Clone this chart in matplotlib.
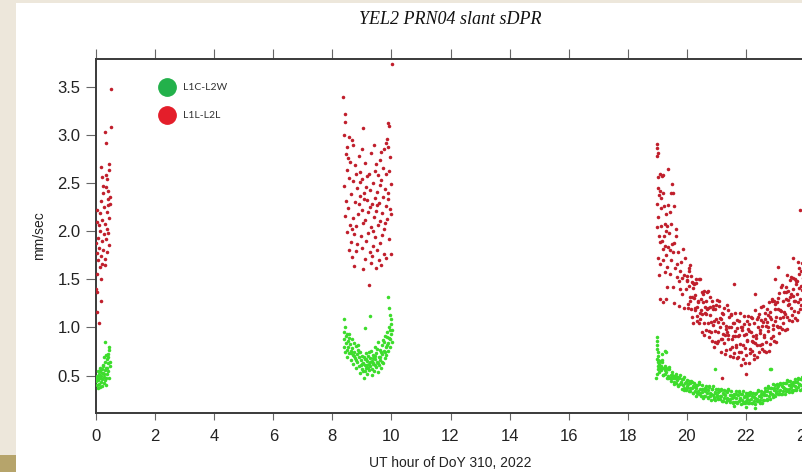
import matplotlib
matplotlib.use("Agg")
import matplotlib.pyplot as plt
from matplotlib.lines import Line2D
from matplotlib.patches import Rectangle
import numpy as np

# ---- data: (UT hour, mm/sec) ----
pass_a_l1l = [(0.51, 3.48), (0.51, 3.08), (0.29, 3.03), (0.35, 2.92), (0.16, 2.67), (0.44, 2.70),
              (0.45, 2.64), (0.22, 2.56), (0.33, 2.58), (0.37, 2.54), (0.25, 2.47), (0.34, 2.46),
              (0.47, 2.36), (0.42, 2.33), (0.18, 2.31), (0.46, 2.28), (0.05, 2.22), (0.12, 2.19),
              (0.28, 2.25), (0.38, 2.20), (0.44, 2.14), (0.02, 2.10), (0.09, 2.06), (0.21, 2.12),
              (0.31, 2.08), (0.36, 2.02), (0.41, 1.98), (0.15, 2.00), (0.26, 1.97), (0.07, 1.93),
              (0.19, 1.90), (0.33, 1.92), (0.43, 1.86), (0.01, 1.88), (0.11, 1.83), (0.24, 1.80),
              (0.04, 1.77), (0.16, 1.74), (0.29, 1.71), (0.08, 1.70), (0.36, 1.78), (0.40, 2.27),
              (0.23, 2.40), (0.39, 2.42), (0.14, 1.63), (0.19, 1.66), (0.30, 1.65), (0.18, 1.50),
              (0.01, 1.40), (0.04, 1.37), (0.18, 1.27), (0.05, 1.16), (0.11, 1.05), (0.02, 1.56)]

pass_a_l1c = [(0.32, 0.85), (0.43, 0.80), (0.45, 0.77), (0.28, 0.69), (0.42, 0.69), (0.36, 0.67),
              (0.31, 0.64), (0.39, 0.63), (0.25, 0.61), (0.47, 0.60), (0.34, 0.58), (0.20, 0.57),
              (0.29, 0.56), (0.41, 0.55), (0.15, 0.55), (0.24, 0.53), (0.37, 0.52), (0.10, 0.52),
              (0.05, 0.50), (0.18, 0.50), (0.27, 0.49), (0.33, 0.48), (0.02, 0.48), (0.13, 0.47),
              (0.22, 0.46), (0.44, 0.47), (0.08, 0.45), (0.30, 0.45), (0.16, 0.43), (0.01, 0.44),
              (0.26, 0.42), (0.11, 0.41), (0.04, 0.40), (0.21, 0.39), (0.07, 0.37), (0.35, 0.40),
              (0.14, 0.38), (0.38, 0.58), (0.23, 0.60), (0.19, 0.53), (0.12, 0.58), (0.06, 0.55),
              (0.40, 0.72), (0.34, 0.71), (0.09, 0.49), (0.28, 0.52), (0.46, 0.64), (0.03, 0.46)]

pass_b_l1l = [(8.37, 3.39), (8.43, 3.22), (8.42, 3.14), (9.90, 3.13), (9.92, 3.09), (9.05, 3.07),
              (8.40, 3.00), (8.55, 2.98), (8.66, 2.95), (8.71, 2.90), (9.85, 2.96), (9.80, 2.92),
              (9.88, 2.88), (9.76, 2.85), (10.01, 3.74), (8.45, 2.80), (8.52, 2.76), (8.89, 2.78),
              (9.32, 2.81), (9.61, 2.74), (9.95, 2.77), (8.61, 2.72), (8.78, 2.69), (9.12, 2.71),
              (9.47, 2.70), (9.70, 2.66), (9.91, 2.63), (8.48, 2.64), (8.95, 2.62), (9.23, 2.60),
              (9.55, 2.58), (9.83, 2.59), (8.58, 2.55), (8.70, 2.52), (9.02, 2.54), (9.38, 2.50),
              (9.66, 2.53), (9.97, 2.49), (8.41, 2.47), (8.83, 2.45), (9.15, 2.46), (9.29, 2.43),
              (9.51, 2.41), (9.78, 2.44), (8.63, 2.39), (8.92, 2.37), (9.07, 2.40), (9.43, 2.35),
              (9.72, 2.36), (9.89, 2.33), (8.46, 2.31), (8.76, 2.30), (9.19, 2.32), (9.35, 2.28),
              (9.58, 2.29), (9.81, 2.26), (8.54, 2.24), (8.99, 2.22), (9.26, 2.25), (9.49, 2.21),
              (9.68, 2.19), (9.94, 2.23), (8.44, 2.16), (8.69, 2.14), (8.87, 2.18), (9.10, 2.12),
              (9.41, 2.15), (9.63, 2.11), (9.86, 2.13), (8.59, 2.07), (8.81, 2.05), (9.04, 2.09),
              (9.31, 2.04), (9.54, 2.06), (9.75, 2.02), (8.50, 1.99), (8.73, 1.97), (8.96, 1.95),
              (9.21, 1.98), (9.45, 1.94), (9.69, 1.96), (9.93, 1.92), (8.64, 1.89), (8.85, 1.87),
              (9.13, 1.90), (9.37, 1.85), (9.60, 1.88), (8.57, 1.81), (8.79, 1.79), (9.01, 1.83),
              (9.28, 1.78), (9.52, 1.80), (9.74, 1.76), (8.68, 1.73), (9.09, 1.71), (9.33, 1.74),
              (9.57, 1.70), (9.82, 1.72), (8.74, 1.64), (9.05, 1.61), (9.30, 1.67), (9.49, 1.62),
              (9.64, 1.65), (9.97, 1.76), (9.25, 1.44), (8.50, 2.88), (9.00, 2.85), (9.40, 2.90),
              (9.65, 2.82), (8.93, 2.51), (9.17, 2.57), (9.62, 2.48), (9.44, 2.63), (8.80, 2.60),
              (9.08, 2.33), (9.50, 2.27), (8.90, 2.28), (9.20, 2.20), (9.77, 2.09), (8.67, 2.02),
              (9.36, 2.00), (9.90, 2.40), (9.98, 2.18)]

pass_b_l1c = [(8.38, 0.95), (8.40, 0.88), (8.41, 0.80), (8.43, 0.74), (8.45, 0.91), (8.47, 0.84),
              (8.49, 0.77), (8.50, 0.69), (8.52, 0.86), (8.54, 0.80), (8.56, 0.73), (8.58, 0.93),
              (8.60, 0.83), (8.62, 0.76), (8.63, 0.66), (8.65, 0.88), (8.67, 0.79), (8.69, 0.71),
              (8.71, 0.62), (8.73, 0.84), (8.75, 0.75), (8.77, 0.68), (8.79, 0.58), (8.81, 0.81),
              (8.83, 0.72), (8.85, 0.64), (8.87, 0.77), (8.89, 0.69), (8.91, 0.60), (8.93, 0.53),
              (8.95, 0.74), (8.97, 0.66), (8.99, 0.57), (9.01, 0.70), (9.03, 0.63), (9.05, 0.55),
              (9.07, 0.48), (9.09, 0.67), (9.11, 0.61), (9.13, 0.73), (9.15, 0.58), (9.17, 0.65),
              (9.19, 0.52), (9.21, 0.70), (9.23, 0.62), (9.25, 0.56), (9.27, 0.68), (9.29, 0.60),
              (9.31, 0.76), (9.33, 0.65), (9.35, 0.57), (9.37, 0.71), (9.39, 0.63), (9.41, 0.55),
              (9.43, 0.80), (9.45, 0.67), (9.47, 0.59), (9.49, 0.73), (9.51, 0.64), (9.53, 0.54),
              (9.55, 0.85), (9.57, 0.69), (9.59, 0.61), (9.61, 0.77), (9.63, 0.66), (9.65, 0.58),
              (9.67, 0.82), (9.69, 0.72), (9.71, 0.63), (9.73, 0.87), (9.75, 0.76), (9.77, 0.68),
              (9.79, 0.91), (9.81, 0.80), (9.83, 0.71), (9.85, 0.95), (9.87, 0.84), (9.89, 0.76),
              (9.91, 1.00), (9.93, 0.89), (9.95, 0.80), (9.97, 1.04), (9.99, 0.93), (10.01, 0.85),
              (10.03, 0.97), (9.87, 1.32), (9.93, 1.20), (9.95, 1.13), (8.40, 1.09), (8.42, 1.00),
              (9.27, 1.12), (9.10, 0.99), (8.55, 0.89), (8.72, 0.70), (8.86, 0.82), (9.00, 0.62),
              (9.14, 0.67), (9.24, 0.75), (9.36, 0.62), (9.46, 0.70), (9.56, 0.63), (9.66, 0.75),
              (9.76, 0.85), (9.86, 0.90), (9.96, 0.88), (8.48, 0.93), (8.64, 0.73), (8.80, 0.66),
              (8.96, 0.61), (9.12, 0.55), (9.28, 0.64), (9.44, 0.61), (9.60, 0.69), (9.78, 0.74),
              (9.94, 0.97), (8.90, 0.74), (9.06, 0.69), (9.22, 0.58), (9.38, 0.68), (9.52, 0.78),
              (9.68, 0.64), (9.84, 0.82), (10.00, 1.09), (9.18, 0.61), (9.34, 0.51)]

pass_c_l1l = [
    # rise, 19.0 - 20.0 h
    (19.00, 2.91), (19.00, 2.86), (19.01, 2.81), (18.99, 2.78), (19.37, 2.65), (19.01, 2.56),
    (19.15, 2.57), (19.18, 2.58), (19.50, 2.49), (19.04, 2.45), (19.08, 2.42), (19.06, 2.38),
    (19.12, 2.35), (19.48, 2.40), (19.53, 2.40), (18.99, 2.28), (19.14, 2.24), (19.22, 2.26),
    (19.35, 2.27), (19.55, 2.26), (19.25, 2.08), (19.48, 2.08), (18.98, 2.04), (19.29, 2.00),
    (19.62, 1.95), (19.09, 1.89), (19.26, 1.85), (19.37, 1.84), (19.49, 1.87), (19.20, 1.82),
    (19.43, 1.80), (19.54, 1.78), (19.09, 1.66), (19.32, 1.63), (19.66, 1.66), (19.77, 1.59),
    (19.94, 1.72), (20.11, 1.65), (19.26, 1.58), (19.43, 1.56), (19.66, 1.52), (19.83, 1.51),
    (20.00, 1.49), (20.22, 1.46), (19.32, 1.42), (19.54, 1.42), (19.77, 1.40), (19.02, 2.15),
    (19.05, 1.95), (19.03, 1.72), (19.07, 1.55), (19.10, 2.60), (19.12, 2.05), (19.16, 1.90),
    (19.19, 1.70), (19.21, 2.40), (19.24, 1.95), (19.28, 2.18), (19.31, 1.75), (19.33, 2.05),
    (19.40, 1.98), (19.42, 2.20), (19.45, 1.70), (19.58, 1.88), (19.60, 1.62), (19.63, 2.02),
    (19.70, 1.78), (19.72, 1.48), (19.80, 1.68), (19.85, 1.35), (19.88, 1.82), (19.92, 1.55),
    (19.96, 1.40), (19.10, 1.30), (19.18, 1.26), (19.30, 1.30), (19.55, 1.25), (19.75, 1.22),
    (19.90, 1.20),
    # bowl, 20.0 - 24.0 h
    (20.01, 1.54), (20.03, 1.20), (20.06, 1.43), (20.08, 1.62), (20.10, 1.28), (20.13, 1.19),
    (20.15, 1.54), (20.17, 1.32), (20.20, 1.41), (20.22, 1.05), (20.24, 1.45), (20.27, 1.18),
    (20.29, 1.34), (20.31, 1.50), (20.34, 1.12), (20.36, 1.21), (20.38, 1.26), (20.41, 1.05),
    (20.43, 1.50), (20.45, 1.15), (20.48, 1.18), (20.50, 1.37), (20.52, 0.95), (20.55, 1.26),
    (20.57, 1.38), (20.59, 1.05), (20.62, 1.15), (20.64, 1.28), (20.66, 0.97), (20.69, 1.19),
    (20.71, 1.38), (20.73, 1.05), (20.76, 0.90), (20.78, 1.21), (20.80, 1.13), (20.83, 0.95),
    (20.85, 1.27), (20.87, 1.03), (20.90, 1.19), (20.92, 0.80), (20.94, 1.19), (20.97, 0.85),
    (20.99, 1.09), (21.01, 1.29), (21.04, 0.95), (21.06, 0.86), (21.08, 1.22), (21.11, 1.00),
    (21.13, 1.10), (21.15, 0.75), (21.18, 1.15), (21.20, 0.88), (21.22, 1.05), (21.25, 1.20),
    (21.27, 0.84), (21.29, 0.92), (21.32, 0.98), (21.34, 0.77), (21.36, 1.23), (21.39, 0.88),
    (21.41, 0.92), (21.43, 1.11), (21.46, 0.70), (21.48, 1.01), (21.50, 1.13), (21.53, 0.80),
    (21.55, 0.91), (21.57, 1.05), (21.60, 0.73), (21.62, 0.96), (21.64, 1.15), (21.67, 0.82),
    (21.69, 0.68), (21.71, 0.99), (21.74, 0.91), (21.76, 0.74), (21.78, 1.07), (21.81, 0.83),
    (21.83, 1.00), (21.85, 0.61), (21.88, 1.00), (21.90, 0.67), (21.92, 0.92), (21.95, 1.12),
    (21.97, 0.79), (21.99, 0.71), (22.02, 1.07), (22.04, 0.86), (22.06, 0.98), (22.09, 0.63),
    (22.11, 1.04), (22.13, 0.78), (22.16, 0.95), (22.18, 1.11), (22.20, 0.76), (22.23, 0.85),
    (22.25, 0.91), (22.27, 0.71), (22.30, 1.18), (22.32, 0.84), (22.34, 0.89), (22.37, 1.09),
    (22.39, 0.69), (22.41, 1.01), (22.44, 1.14), (22.46, 0.82), (22.48, 0.94), (22.51, 1.08),
    (22.53, 0.78), (22.55, 1.02), (22.58, 1.22), (22.60, 0.90), (22.62, 0.76), (22.65, 1.09),
    (22.67, 1.02), (22.69, 0.85), (22.72, 1.19), (22.74, 0.96), (22.76, 1.13), (22.79, 0.76),
    (22.81, 1.16), (22.83, 0.83), (22.86, 1.09), (22.88, 1.30), (22.90, 0.98), (22.93, 0.91),
    (22.95, 1.27), (22.97, 1.07), (23.00, 1.19), (23.02, 0.85), (23.04, 1.26), (23.07, 1.01),
    (23.09, 1.19), (23.11, 1.36), (23.14, 1.00), (23.16, 1.10), (23.18, 1.17), (23.21, 0.98),
    (23.23, 1.44), (23.25, 1.11), (23.28, 1.16), (23.30, 1.37), (23.32, 0.97), (23.35, 1.30),
    (23.37, 1.42), (23.39, 1.11), (23.42, 1.23), (23.44, 1.38), (23.46, 1.08), (23.49, 1.32),
    (23.51, 1.52), (23.53, 1.20), (23.56, 1.07), (23.58, 1.40), (23.60, 1.33), (23.63, 1.17),
    (23.65, 1.50), (23.67, 1.27), (23.70, 1.45), (23.72, 1.08), (23.74, 1.48), (23.77, 1.16),
    (23.79, 1.41), (23.81, 1.62), (23.84, 1.30), (23.86, 1.23), (23.88, 1.59), (23.91, 1.39),
    (23.93, 1.51), (23.95, 1.17), (23.98, 1.58),
    (20.02, 1.48), (20.05, 1.24), (20.09, 1.59), (20.12, 1.32), (20.16, 1.11), (20.19, 1.47),
    (20.23, 1.31), (20.26, 1.20), (20.30, 1.46), (20.33, 1.07), (20.37, 1.28), (20.40, 1.50),
    (20.44, 1.09), (20.47, 1.30), (20.51, 1.14), (20.54, 1.35), (20.58, 0.92), (20.61, 1.21),
    (20.65, 1.14), (20.68, 1.37), (20.72, 1.20), (20.75, 0.96), (20.79, 1.32), (20.82, 1.06),
    (20.86, 0.86), (20.89, 1.22), (20.93, 1.07), (20.96, 0.96), (21.00, 1.23), (21.03, 0.84),
    (21.07, 1.06), (21.10, 1.28), (21.14, 0.88), (21.17, 1.09), (21.21, 0.93), (21.24, 1.14),
    (21.28, 0.72), (21.31, 1.02), (21.35, 0.95), (21.38, 1.18), (21.42, 1.01), (21.45, 0.78),
    (21.49, 1.14), (21.52, 0.88), (21.56, 0.69), (21.59, 1.05), (21.63, 0.91), (21.66, 0.80),
    (21.70, 1.08), (21.73, 0.69), (21.77, 0.92), (21.80, 1.15), (21.84, 0.75), (21.87, 0.97),
    (21.91, 0.82), (21.94, 1.04), (21.98, 0.63), (22.01, 0.93), (22.05, 0.87), (22.08, 1.12),
    (22.12, 0.96), (22.15, 0.73), (22.19, 1.10), (22.22, 0.86), (22.26, 0.67), (22.29, 1.05),
    (22.33, 0.92), (22.36, 0.82), (22.40, 1.11), (22.43, 0.74), (22.47, 0.97), (22.50, 1.21),
    (22.54, 0.83), (22.57, 1.06), (22.61, 0.92), (22.64, 1.15), (22.68, 0.75), (22.71, 1.06),
    (22.75, 1.01), (22.78, 1.26), (22.82, 1.11), (22.85, 0.89), (22.89, 1.27), (22.92, 1.03),
    (22.96, 0.86), (22.99, 1.24), (23.03, 1.11), (23.06, 1.02), (23.10, 1.31), (23.13, 0.94),
    (23.17, 1.18), (23.20, 1.42), (23.24, 1.05), (23.27, 1.28), (23.31, 1.14), (23.34, 1.37),
    (23.38, 0.98), (23.41, 1.29), (23.45, 1.24), (23.48, 1.49), (23.52, 1.35), (23.55, 1.13),
    (23.59, 1.51), (23.62, 1.27), (23.66, 1.10), (23.69, 1.48), (23.73, 1.35), (23.76, 1.26),
    (23.80, 1.56), (23.83, 1.19), (23.87, 1.43), (23.90, 1.67), (23.94, 1.29), (23.97, 1.52),
    # stragglers
    (23.83, 2.22), (23.09, 1.63), (23.00, 1.50), (23.40, 1.55), (23.60, 1.72), (23.75, 1.68),
    (21.20, 0.47), (22.00, 0.52), (21.60, 1.45), (22.30, 1.35)]

pass_c_l1c = [
    # steep start at 19.0 h
    (18.98, 0.90), (18.99, 0.86), (19.00, 0.82), (19.00, 0.78), (19.01, 0.74), (19.02, 0.70),
    (18.99, 0.67), (19.03, 0.64), (19.02, 0.60), (19.04, 0.57), (19.05, 0.54), (19.00, 0.52),
    (18.97, 0.47), (19.06, 0.62), (19.08, 0.58), (19.04, 0.66), (19.26, 0.76), (19.30, 0.74),
    (19.15, 0.72), (20.95, 0.57), (22.80, 0.57), (22.85, 0.57), (22.00, 0.17), (21.60, 0.18),
    (22.30, 0.16),
    # band
    (19.10, 0.65), (19.12, 0.56), (19.15, 0.66), (19.17, 0.58), (19.20, 0.51), (19.22, 0.58),
    (19.25, 0.60), (19.27, 0.52), (19.30, 0.54), (19.32, 0.47), (19.35, 0.57), (19.37, 0.50),
    (19.40, 0.59), (19.42, 0.47), (19.45, 0.51), (19.47, 0.44), (19.50, 0.54), (19.52, 0.48),
    (19.55, 0.50), (19.57, 0.43), (19.60, 0.50), (19.62, 0.42), (19.65, 0.52), (19.67, 0.45),
    (19.70, 0.39), (19.72, 0.47), (19.75, 0.49), (19.77, 0.41), (19.80, 0.43), (19.82, 0.36),
    (19.85, 0.46), (19.87, 0.40), (19.90, 0.49), (19.92, 0.37), (19.95, 0.42), (19.97, 0.35),
    (20.00, 0.45), (20.02, 0.39), (20.05, 0.41), (20.07, 0.34), (20.10, 0.42), (20.12, 0.34),
    (20.15, 0.44), (20.17, 0.37), (20.20, 0.32), (20.22, 0.39), (20.25, 0.42), (20.27, 0.34),
    (20.30, 0.37), (20.32, 0.29), (20.35, 0.40), (20.37, 0.34), (20.40, 0.43), (20.42, 0.31),
    (20.45, 0.36), (20.47, 0.29), (20.50, 0.40), (20.52, 0.33), (20.55, 0.36), (20.57, 0.29),
    (20.60, 0.37), (20.62, 0.29), (20.65, 0.39), (20.67, 0.32), (20.70, 0.27), (20.72, 0.35),
    (20.75, 0.38), (20.77, 0.29), (20.80, 0.32), (20.82, 0.25), (20.85, 0.36), (20.87, 0.30),
    (20.90, 0.39), (20.92, 0.28), (20.95, 0.32), (20.97, 0.25), (21.00, 0.36), (21.02, 0.30),
    (21.05, 0.33), (21.07, 0.26), (21.10, 0.34), (21.12, 0.26), (21.15, 0.36), (21.17, 0.29),
    (21.20, 0.24), (21.22, 0.32), (21.25, 0.35), (21.27, 0.27), (21.30, 0.30), (21.32, 0.23),
    (21.35, 0.33), (21.37, 0.27), (21.40, 0.36), (21.42, 0.25), (21.45, 0.30), (21.47, 0.23),
    (21.50, 0.34), (21.52, 0.27), (21.55, 0.30), (21.57, 0.23), (21.60, 0.31), (21.62, 0.23),
    (21.65, 0.34), (21.67, 0.27), (21.70, 0.22), (21.72, 0.30), (21.75, 0.33), (21.77, 0.24),
    (21.80, 0.27), (21.82, 0.20), (21.85, 0.31), (21.87, 0.25), (21.90, 0.34), (21.92, 0.23),
    (21.95, 0.28), (21.97, 0.21), (22.00, 0.32), (22.02, 0.26), (22.05, 0.29), (22.07, 0.22),
    (22.10, 0.30), (22.12, 0.22), (22.15, 0.33), (22.17, 0.26), (22.20, 0.21), (22.22, 0.29),
    (22.25, 0.32), (22.27, 0.24), (22.30, 0.27), (22.32, 0.20), (22.35, 0.32), (22.37, 0.26),
    (22.40, 0.35), (22.42, 0.24), (22.45, 0.29), (22.47, 0.22), (22.50, 0.34), (22.52, 0.28),
    (22.55, 0.31), (22.57, 0.25), (22.60, 0.33), (22.62, 0.25), (22.65, 0.37), (22.67, 0.30),
    (22.70, 0.25), (22.72, 0.34), (22.75, 0.37), (22.77, 0.29), (22.80, 0.33), (22.82, 0.26),
    (22.85, 0.37), (22.87, 0.31), (22.90, 0.41), (22.92, 0.30), (22.95, 0.35), (22.97, 0.29),
    (23.00, 0.40), (23.02, 0.34), (23.05, 0.37), (23.07, 0.31), (23.10, 0.39), (23.12, 0.31),
    (23.15, 0.42), (23.17, 0.35), (23.20, 0.31), (23.22, 0.39), (23.25, 0.42), (23.27, 0.34),
    (23.30, 0.37), (23.32, 0.31), (23.35, 0.42), (23.37, 0.36), (23.40, 0.45), (23.42, 0.34),
    (23.45, 0.40), (23.47, 0.33), (23.50, 0.44), (23.52, 0.38), (23.55, 0.41), (23.57, 0.35),
    (23.60, 0.43), (23.62, 0.35), (23.65, 0.46), (23.67, 0.39), (23.70, 0.35), (23.72, 0.43),
    (23.75, 0.46), (23.77, 0.38), (23.80, 0.41), (23.82, 0.35), (23.85, 0.46), (23.87, 0.40),
    (23.90, 0.49), (23.92, 0.38), (23.95, 0.44), (23.97, 0.37),
    (19.11, 0.60), (19.16, 0.64), (19.21, 0.51), (19.26, 0.56), (19.31, 0.58), (19.36, 0.48),
    (19.41, 0.57), (19.46, 0.47), (19.51, 0.51), (19.56, 0.41), (19.61, 0.47), (19.66, 0.49),
    (19.71, 0.40), (19.76, 0.51), (19.81, 0.42), (19.86, 0.46), (19.91, 0.35), (19.96, 0.43),
    (20.01, 0.37), (20.06, 0.44), (20.11, 0.37), (20.16, 0.43), (20.21, 0.32), (20.26, 0.38),
    (20.31, 0.40), (20.36, 0.32), (20.41, 0.41), (20.46, 0.32), (20.51, 0.36), (20.56, 0.27),
    (20.61, 0.34), (20.66, 0.36), (20.71, 0.28), (20.76, 0.39), (20.81, 0.31), (20.86, 0.36),
    (20.91, 0.26), (20.96, 0.33), (21.01, 0.28), (21.06, 0.36), (21.11, 0.29), (21.16, 0.35),
    (21.21, 0.24), (21.26, 0.31), (21.31, 0.34), (21.36, 0.25), (21.41, 0.35), (21.46, 0.26),
    (21.51, 0.30), (21.56, 0.21), (21.61, 0.28), (21.66, 0.31), (21.71, 0.23), (21.76, 0.34),
    (21.81, 0.26), (21.86, 0.31), (21.91, 0.21), (21.96, 0.29), (22.01, 0.24), (22.06, 0.32),
    (22.11, 0.25), (22.16, 0.32), (22.21, 0.21), (22.26, 0.28), (22.31, 0.31), (22.36, 0.24),
    (22.41, 0.34), (22.46, 0.25), (22.51, 0.31), (22.56, 0.22), (22.61, 0.30), (22.66, 0.34),
    (22.71, 0.26), (22.76, 0.39), (22.81, 0.32), (22.86, 0.37), (22.91, 0.28), (22.96, 0.37),
    (23.01, 0.32), (23.06, 0.41), (23.11, 0.34), (23.16, 0.41), (23.21, 0.31), (23.26, 0.38),
    (23.31, 0.42), (23.36, 0.34), (23.41, 0.44), (23.46, 0.36), (23.51, 0.41), (23.56, 0.33),
    (23.61, 0.40), (23.66, 0.43), (23.71, 0.36), (23.76, 0.48), (23.81, 0.41), (23.86, 0.46),
    (23.91, 0.36), (23.96, 0.45)]

series_names = ["L1C-L2W", "L1L-L2L"]
x_ticks = [0, 2, 4, 6, 8, 10, 12, 14, 16, 18, 20, 22, 24]
y_ticks = [0.5, 1.0, 1.5, 2.0, 2.5, 3.0, 3.5]

W, H = 802, 472
fig = plt.figure(figsize=(W / 100, H / 100), dpi=100)
fig.patch.set_facecolor("white")

# screenshot border (beige page behind the slide)
fig.add_artist(Rectangle((0, 0), 16 / W, 1, transform=fig.transFigure,
                         facecolor="#ede7db", edgecolor="none", zorder=0))
fig.add_artist(Rectangle((0, 1 - 3 / H), 1, 3 / H, transform=fig.transFigure,
                         facecolor="#ede7db", edgecolor="none", zorder=0))
fig.add_artist(Rectangle((0, 0), 16 / W, 17 / H, transform=fig.transFigure,
                         facecolor="#b6a46b", edgecolor="none", zorder=1))

left, right, top, bottom = 96, 805, 59, 413.3
ax = fig.add_axes([left / W, 1 - bottom / H, (right - left) / W, (bottom - top) / H])

red_dot = "#c01f2c"
green_dot = "#3ddc2c"
for pts in [pass_a_l1c, pass_b_l1c, pass_c_l1c]:
    t, v = np.array(pts).T
    ax.scatter(t, v, s=6.5, color=green_dot, linewidths=0, zorder=3)
for pts in [pass_a_l1l, pass_b_l1l, pass_c_l1l]:
    t, v = np.array(pts).T
    ax.scatter(t, v, s=6.5, color=red_dot, linewidths=0, zorder=3)

ax.set_xlim(0, 24)
ax.set_ylim(0.108, 3.79)
ax.set_xticks(x_ticks)
ax.set_yticks(y_ticks)
ax.set_yticklabels([f"{v:.1f}" for v in y_ticks])

for side in ["left", "bottom", "top", "right"]:
    ax.spines[side].set_color("#3a3a3a")
    ax.spines[side].set_linewidth(1.4)

ax.tick_params(axis="x", which="both", direction="out", top=True, length=5,
               width=0.8, color="#666666", pad=6, labelcolor="#222222")
ax.tick_params(axis="y", direction="out", length=7, width=0.8,
               color="#666666", pad=4, labelcolor="#222222")
for lab in ax.get_xticklabels() + ax.get_yticklabels():
    lab.set_fontfamily("Liberation Sans")
    lab.set_fontsize(12)
for tl in ax.xaxis.get_major_ticks():
    tl.tick2line.set_markersize(7)

fig.text((left + right) / 2 / W, 1 - 20 / H, "YEL2 PRN04 slant sDPR",
         family="Liberation Serif", style="italic", size=13, color="#111111",
         ha="center", va="center")
fig.text((left + right) / 2 / W, 1 - 463 / H, "UT hour of DoY 310, 2022",
         family="Liberation Sans", size=10, color="#222222", ha="center", va="center")
fig.text(39 / W, 1 - 236 / H, "mm/sec", family="Liberation Sans", size=10,
         color="#222222", rotation=90, ha="center", va="center")

# legend drawn as on the slide
key_colors = ["#23b14b", "#e41e2a"]
for i, (name, col) in enumerate(zip(series_names, key_colors)):
    yk = 1 - (87 + 28 * i) / H
    fig.add_artist(Line2D([166.5 / W], [yk], marker="o", markersize=12.5, color=col,
                          linestyle="none", transform=fig.transFigure))
    fig.text(182.5 / W, yk, name, family="Lato", size=7.5, color="#333333",
             ha="left", va="center")

fig.savefig("out.png", dpi=100)
